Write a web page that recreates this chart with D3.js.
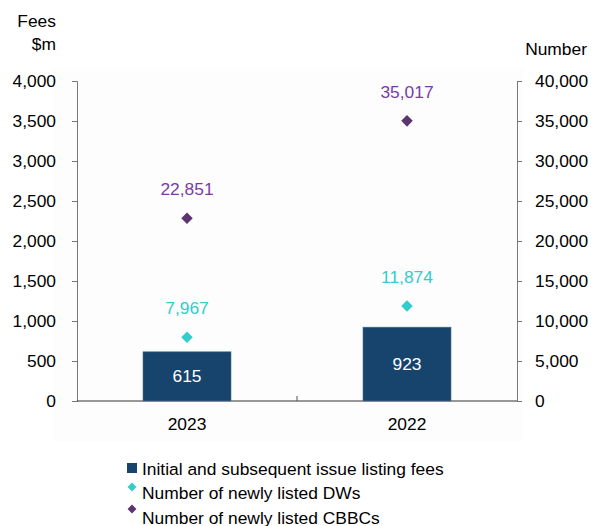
<!DOCTYPE html>
<html><head><meta charset="utf-8">
<script src="https://cdn.jsdelivr.net/npm/d3@7"></script>
<style>body{margin:0;background:#fff}svg{display:block;font-family:"Liberation Sans",Arial,sans-serif}</style>
</head><body><svg id="c" width="595" height="526"></svg>
<script>
const categories = ["2023", "2022"];
const fees = [615, 923];
const dws = [7967, 11874];
const cbbcs = [22851, 35017];
const leftTicks = [0, 500, 1000, 1500, 2000, 2500, 3000, 3500, 4000];
const rightTicks = [0, 5000, 10000, 15000, 20000, 25000, 30000, 35000, 40000];
const legendLabels = ["Initial and subsequent issue listing fees", "Number of newly listed DWs", "Number of newly listed CBBCs"];

const svg = d3.select("#c");
const x0 = 77, x1 = 517, yTop = 81, yBot = 401;
const x = d3.scaleBand().domain(categories).range([x0, x1]).paddingInner(0).paddingOuter(0);
const yL = d3.scaleLinear().domain([0, 4000]).range([yBot, yTop]);
const yR = d3.scaleLinear().domain([0, 40000]).range([yBot, yTop]);
const fmt = d3.format(",");
const fs = 17.4;

// faint background panel
svg.append("rect").attr("x", 53).attr("y", 67).attr("width", 470).attr("height", 375).attr("fill", "#fdfdfd");

// axes
const gl = svg.append("g").attr("transform", `translate(${x0},0)`)
  .call(d3.axisLeft(yL).tickValues(leftTicks).tickFormat(fmt).tickSizeOuter(0).tickSize(5).tickPadding(16));
const gr = svg.append("g").attr("transform", `translate(${x1},0)`)
  .call(d3.axisRight(yR).tickValues(rightTicks).tickFormat(fmt).tickSizeOuter(0).tickSize(5).tickPadding(13));
[gl, gr].forEach(g => {
  g.selectAll("text").attr("font-size", fs).attr("fill", "#000").attr("font-family", "Liberation Sans, Arial, sans-serif");
  g.selectAll("line,path").attr("stroke", "#777");
  g.select(".domain").attr("stroke", "#777");
});

// x axis line
svg.append("line").attr("x1", x0).attr("x2", x1).attr("y1", yBot).attr("y2", yBot).attr("stroke", "#333");
svg.append("line").attr("x1", x(categories[1])).attr("x2", x(categories[1])).attr("y1", yBot).attr("y2", yBot - 5).attr("stroke", "#555");
svg.selectAll(".xl").data(categories).enter().append("text")
  .attr("x", d => x(d) + x.bandwidth() / 2).attr("y", yBot + 29)
  .attr("text-anchor", "middle").attr("font-size", fs).text(d => d);

// bars
const bw = x.bandwidth() * 0.4;
svg.selectAll(".bar").data(fees).enter().append("rect")
  .attr("x", (d, i) => x(categories[i]) + x.bandwidth() / 2 - bw / 2)
  .attr("y", d => yL(d)).attr("width", bw).attr("height", d => yBot - yL(d))
  .attr("fill", "#17446D").attr("stroke", "#4d7296").attr("stroke-width", 0.6);
svg.selectAll(".bl").data(fees).enter().append("text")
  .attr("x", (d, i) => x(categories[i]) + x.bandwidth() / 2)
  .attr("y", d => (yL(d) + yBot) / 2 + 6)
  .attr("text-anchor", "middle").attr("font-size", fs).attr("fill", "#fff").text(d => fmt(d));

const diamond = d3.symbol().type(d3.symbolDiamond2).size(85);
function series(vals, fillM, fillL) {
  svg.selectAll(null).data(vals).enter().append("path")
    .attr("d", diamond)
    .attr("transform", (d, i) => `translate(${x(categories[i]) + x.bandwidth() / 2},${yR(d)})`)
    .attr("fill", fillM);
  svg.selectAll(null).data(vals).enter().append("text")
    .attr("x", (d, i) => x(categories[i]) + x.bandwidth() / 2)
    .attr("y", d => yR(d) - 23)
    .attr("text-anchor", "middle").attr("font-size", fs).attr("fill", fillL).text(d => fmt(d));
}
series(dws, "#33CCCC", "#33CCCC");
series(cbbcs, "#5C3470", "#7A3BA6");

// axis titles
svg.append("text").attr("x", 56).attr("y", 27).attr("text-anchor", "end").attr("font-size", fs).text("Fees");
svg.append("text").attr("x", 56).attr("y", 50).attr("text-anchor", "end").attr("font-size", fs).text("$m");
svg.append("text").attr("x", 587).attr("y", 55).attr("text-anchor", "end").attr("font-size", fs).text("Number");

// legend
const lg = svg.append("g");
lg.append("rect").attr("x", 127).attr("y", 463).attr("width", 10).attr("height", 10).attr("fill", "#17446D");
lg.append("path").attr("d", d3.symbol().type(d3.symbolDiamond2).size(50)).attr("transform", "translate(132,487)").attr("fill", "#33CCCC");
lg.append("path").attr("d", d3.symbol().type(d3.symbolDiamond2).size(50)).attr("transform", "translate(132,509)").attr("fill", "#5C3470");
const ly = [475, 499, 524];
lg.selectAll("text").data(legendLabels).enter().append("text")
  .attr("x", 142).attr("y", (d, i) => ly[i]).attr("font-size", fs).text(d => d);
</script></body></html>
